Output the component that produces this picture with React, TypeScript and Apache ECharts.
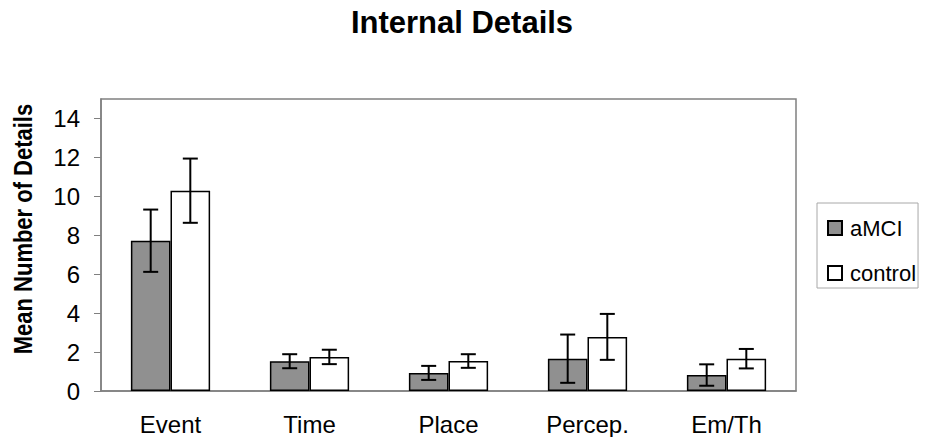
import React, { useEffect, useRef } from "react";
import * as echarts from "echarts";

const categories = ["Event", "Time", "Place", "Percep.", "Em/Th"];
const seriesNames = ["aMCI", "control"];
const aMCIMeans = [7.72, 1.53, 0.93, 1.66, 0.82];
const aMCIErrors = [1.6, 0.36, 0.36, 1.24, 0.55];
const controlMeans = [10.29, 1.75, 1.54, 2.78, 1.66];
const controlErrors = [1.65, 0.37, 0.35, 1.18, 0.5];
const yTicks = [0, 2, 4, 6, 8, 10, 12, 14];
const yAxisTitle = "Mean Number of Details";

const FONT = "'Liberation Sans', Arial, sans-serif";
const BAR_FRAC = 0.285;

export default function App() {
  const ref = useRef<HTMLDivElement>(null);
  useEffect(() => {
    if (!ref.current) return;
    const chart = echarts.init(ref.current, undefined, { renderer: "svg" });

    const errData: number[][] = [];
    aMCIMeans.forEach((m, i) => errData.push([i, m - aMCIErrors[i], m + aMCIErrors[i], 0]));
    controlMeans.forEach((m, i) => errData.push([i, m - controlErrors[i], m + controlErrors[i], 1]));

    const renderItem = (params: any, api: any) => {
      const ci = api.value(0);
      const lo = api.value(1);
      const hi = api.value(2);
      const s = api.value(3);
      const band = api.size([1, 0])[0];
      const bw = band * BAR_FRAC;
      const center = api.coord([ci, 0])[0];
      const x = center + (s === 0 ? -bw / 2 : bw / 2);
      const yl = api.coord([ci, lo])[1];
      const yh = api.coord([ci, hi])[1];
      const cap = 7.5;
      const style = { stroke: "#000", lineWidth: 2 };
      return {
        type: "group",
        children: [
          { type: "line", shape: { x1: x, y1: yl, x2: x, y2: yh }, style },
          { type: "line", shape: { x1: x - cap, y1: yl, x2: x + cap, y2: yl }, style },
          { type: "line", shape: { x1: x - cap, y1: yh, x2: x + cap, y2: yh }, style },
        ],
      };
    };

    chart.setOption({
      animation: false,
      backgroundColor: "#fff",
      textStyle: { fontFamily: FONT },
      title: {
        text: "Internal Details",
        left: 457,
        textAlign: "center",
        top: 2,
        textStyle: { fontFamily: FONT, fontSize: 31, fontWeight: "bold", color: "#000" },
      },
      legend: {
        orient: "vertical",
        left: 817,
        top: 203,
        data: seriesNames,
        icon: "rect",
        itemWidth: 14,
        itemHeight: 14,
        itemGap: 23,
        padding: [14, 2, 4, 10],
        borderColor: "#a8a8a8",
        borderWidth: 1,
        textStyle: { fontFamily: FONT, fontSize: 22, lineHeight: 22, color: "#000", padding: [0, 0, 0, 3] },
      },
      graphic: [
        {
          type: "text",
          x: 24,
          y: 229,
          rotation: Math.PI / 2,
          scaleX: 0.88,
          style: {
            text: yAxisTitle,
            fontFamily: FONT,
            fontSize: 25,
            fontWeight: "bold",
            fill: "#000",
            align: "center",
            verticalAlign: "middle",
          },
        },
      ],
      grid: {
        left: 101,
        top: 99,
        right: 138,
        bottom: 54,
        show: true,
        borderColor: "#808080",
        borderWidth: 1.5,
        backgroundColor: "transparent",
      },
      xAxis: {
        type: "category",
        data: categories,
        axisLine: { lineStyle: { color: "#808080", width: 1.5 } },
        axisTick: { show: false },
        axisLabel: { fontFamily: FONT, fontSize: 24, color: "#000", margin: 21 },
      },
      yAxis: {
        type: "value",
        min: 0,
        max: 15,
        interval: 2,
        axisLine: { show: true, lineStyle: { color: "#808080", width: 1.5 } },
        axisTick: { show: true, length: 7, customValues: yTicks, lineStyle: { color: "#808080" } },
        axisLabel: { fontFamily: FONT, fontSize: 24, color: "#000", margin: 21, customValues: yTicks },
        splitLine: { show: false },
      },
      series: [
        {
          name: seriesNames[0],
          type: "bar",
          data: aMCIMeans,
          barWidth: BAR_FRAC * 100 + "%",
          barGap: "0%",
          itemStyle: { color: "#909090", borderColor: "#000", borderWidth: 1.5 },
        },
        {
          name: seriesNames[1],
          type: "bar",
          data: controlMeans,
          barWidth: BAR_FRAC * 100 + "%",
          barGap: "0%",
          itemStyle: { color: "#ffffff", borderColor: "#000", borderWidth: 1.5 },
        },
        {
          type: "custom",
          data: errData,
          encode: { x: 0, y: [1, 2] },
          renderItem,
          z: 10,
        },
      ],
    });
    return () => chart.dispose();
  }, []);
  return <div ref={ref} style={{ width: 934, height: 445, margin: -8 }} />;
}
